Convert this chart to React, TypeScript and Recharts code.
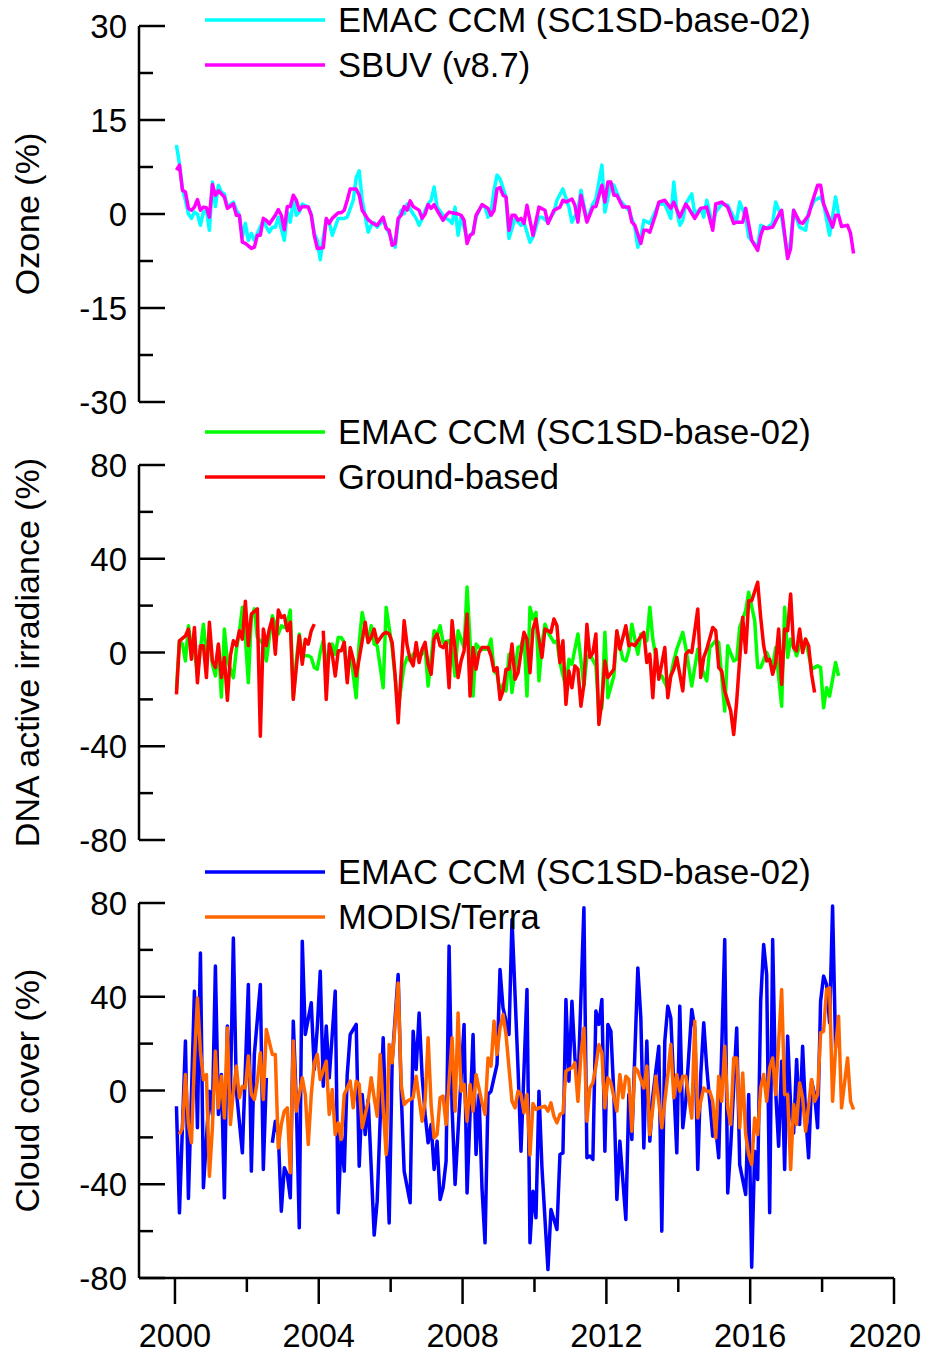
import React from 'react';
import { LineChart, Line, XAxis, YAxis, Legend } from 'recharts';

type Pt = [number, number | null];

// month index counted from January 2000
const yearMajor = [2000, 2004, 2008, 2012, 2016, 2020];
const yearMinor = [2002, 2006, 2010, 2014, 2018];
const ozoneMajor = [30, 15, 0, -15, -30];
const ozoneMinor = [22.5, 7.5, -7.5, -22.5];
const pctMajor = [80, 40, 0, -40, -80];
const pctMinor = [60, 20, -20, -60];

const ozoneEmac: Pt[] = [[0,11.0],[1,8.0],[2,4.0],[3,2.2],[4,0],[5,-0.7],[6,0.3],[7,0],[8,-1.8],[9,0.3],[10,0.6],[11,-2.6],[12,5.1],[13,1.2],[14,4.6],[15,3.5],[16,3.2],[17,1.1],[19,1.9],[20,0.6],[21,-0.2],[22,-3.7],[23,-1.5],[24,-4.2],[25,-3.1],[26,-4.2],[27,-3.1],[29,-1.0],[30,-2.1],[31,-2.9],[32,-2.1],[33,-2.1],[34,-0.5],[36,-4.2],[37,0.3],[38,-1.3],[39,2.2],[40,-0.2],[41,0.3],[42,1.6],[44,1.1],[45,0],[46,-3.1],[47,-4.2],[48,-7.3],[49,-3.7],[50,-1.0],[51,-1.3],[52,-3.4],[54,-0.7],[55,-0.7],[56,-0.7],[57,-0.5],[59,2.2],[60,5.8],[61,6.9],[62,2.2],[64,-2.9],[65,-1.8],[66,-1.4],[67,-2.1],[69,-1.0],[70,-2.1],[71,-3.1],[72,-4.2],[73,-5.3],[74,-1.3],[75,0.6],[76,0],[77,1.6],[79,0],[80,-0.7],[81,-1.8],[82,-0.7],[83,0.6],[84,1.6],[85,2.2],[86,4.3],[87,1.1],[89,-0.2],[90,-0.7],[91,-1.0],[92,-1.5],[93,1.1],[94,-3.4],[95,-0.5],[96,-2.1],[97,-3.9],[99,-2.9],[100,-0.5],[101,0.6],[102,1.4],[103,1.1],[104,-0.5],[105,0.3],[106,3.8],[107,6.2],[108,5.6],[110,2.7],[111,-3.9],[113,-0.7],[115,-1.8],[116,-1.3],[118,-4.5],[119,-3.7],[121,-0.5],[122,-0.5],[124,-1.3],[126,0.3],[127,2.2],[129,4.0],[131,1.1],[132,-1.3],[134,0.6],[135,3.8],[137,-1.0],[139,1.6],[140,2.4],[142,7.8],[143,0.3],[145,4.8],[146,4.6],[148,2.2],[150,1.1],[151,0.6],[153,-2.1],[154,-5.3],[155,-3.7],[156,-1.0],[158,-1.5],[160,0.6],[161,1.6],[163,1.6],[165,-0.7],[166,5.1],[167,0.6],[168,-1.8],[169,-1.0],[170,1.6],[172,3.2],[173,0],[175,0.9],[176,-0.5],[177,2.2],[179,-1.8],[180,0.3],[182,1.6],[184,1.4],[186,-0.5],[187,-1.0],[188,1.9],[190,-0.5],[191,-3.7],[194,-5.3],[195,-1.8],[197,-2.3],[199,-1.5],[200,1.9],[202,-0.5],[204,-6.9],[205,-4.2],[206,0.6],[208,-2.1],[210,-2.6],[211,0.3],[213,2.2],[215,2.7],[216,1.6],[218,-3.4],[220,2.7],[221,0]];

const ozoneSbuv: Pt[] = [[0,7.0],[1,7.8],[2,3.8],[3,3.5],[4,0.9],[5,0.6],[6,1.1],[7,2.3],[8,0.6],[9,1.1],[10,1.0],[11,-0.5],[12,4.7],[13,3.0],[14,3.7],[16,2.7],[17,0.9],[19,1.6],[20,-0.2],[21,-0.2],[22,-4.5],[23,-4.7],[25,-5.5],[26,-5.3],[27,-3.4],[28,-3.4],[29,-0.7],[30,-1.0],[31,-1.6],[33,-0.2],[34,0.7],[35,-0.2],[36,-2.5],[37,1.2],[38,1.2],[39,3.0],[40,2.2],[41,0.6],[42,1.2],[44,1.1],[45,-0.2],[46,-3.4],[47,-5.5],[49,-5.4],[50,-0.7],[51,-1.5],[52,-0.7],[54,0.2],[55,0.2],[56,0.6],[57,2.2],[58,4.0],[60,4.0],[61,3.0],[62,0.6],[64,-0.9],[65,-1.3],[66,-1.6],[67,-1.8],[69,-0.5],[70,-2.3],[71,-2.6],[72,-5.0],[73,-4.7],[74,-0.7],[75,-0.2],[76,1.2],[77,0.6],[78,2.1],[79,1.2],[80,0.9],[81,0.6],[82,-0.7],[83,0],[84,1.5],[85,0.9],[86,1.5],[87,0.6],[88,-0.2],[89,-1.0],[90,-0.2],[91,0.3],[92,0.2],[94,0],[95,-0.2],[96,-1.0],[97,-4.7],[98,-3.4],[99,-3.1],[100,-0.2],[101,0.6],[102,1.5],[104,0.9],[105,-0.2],[106,0.6],[107,4.0],[108,4.2],[109,3.0],[110,2.7],[111,-2.6],[112,-0.2],[113,-0.2],[114,-1.0],[115,-0.7],[116,-1.5],[117,1.4],[119,-3.4],[121,1.1],[123,0.6],[124,-1.5],[126,0.6],[128,1.1],[129,2.2],[130,1.9],[132,2.4],[133,1.4],[134,-1.3],[135,3.0],[137,-1.3],[139,1.1],[140,1.2],[142,4.6],[143,1.9],[144,5.1],[145,5.1],[146,3.0],[147,3.0],[149,1.1],[151,1.1],[152,-1.3],[153,-1.8],[155,-4.7],[156,-2.6],[157,-2.6],[158,-2.9],[160,0],[161,1.9],[163,2.2],[165,0.9],[166,1.9],[168,-0.5],[170,1.6],[171,0.9],[173,-0.7],[175,0.9],[177,1.1],[179,-2.6],[180,1.6],[182,1.9],[184,1.1],[186,-1.5],[187,-1.3],[189,-1.3],[190,0.9],[192,-4.2],[194,-5.8],[195,-3.4],[196,-2.1],[197,-2.3],[199,-2.1],[201,-0.2],[202,0.6],[204,-7.1],[205,-5.5],[206,0.6],[208,-1.3],[209,-1.5],[211,-0.2],[212,1.6],[214,4.6],[215,4.6],[216,1.6],[219,-2.1],[220,-0.2],[221,-0.2],[222,-2.0],[224,-1.8],[225,-3.1],[226,-6.3]];

const dnaEmac: Pt[] = [[0,-15.7],[1,5.0],[2,3.6],[3,-3.6],[4,11.4],[5,2.1],[6,0.7],[7,-9.3],[9,12.1],[10,-0.7],[11,7.9],[12,-5],[13,-10],[14,2.9],[15,-19],[16,10],[17,-3.6],[19,-10.7],[20,1.4],[21,8.6],[22,19.3],[23,6.4],[24,-12.9],[25,15],[26,18.6],[27,6.4],[29,3.6],[30,-3.6],[31,6.4],[32,15.7],[34,7.9],[35,11.4],[36,10.7],[37,12.9],[38,18.1],[39,-19.3],[40,-3.6],[41,7.9],[42,-1.4],[44,-1.4],[45,-2.1],[46,-6.4],[47,-7.1],[48,0],[49,5.0],[50,-4.3],[52,3.6],[53,-0.7],[54,6.4],[55,6.4],[56,4.3],[57,-10.7],[58,0.7],[60,-19.3],[61,4.3],[62,17.1],[64,4.3],[65,11.4],[66,3.6],[67,2.9],[69,-15],[70,19.3],[71,10.7],[72,2.1],[74,-23.6],[76,-5.7],[77,-2.1],[78,-3.6],[79,-0.7],[80,-1.4],[82,-0.7],[83,2.1],[84,-14.3],[86,9.3],[87,7.1],[88,11.4],[89,4.3],[91,5.0],[92,0.7],[93,-10],[94,9.3],[96,2.1],[97,27.9],[99,-18.6],[100,3.6],[101,2.1],[102,1.4],[104,1.4],[105,5.7],[106,-7.9],[107,-9.3],[108,-17.1],[109,-13.6],[110,-16.4],[111,-0.7],[112,-17.1],[114,2.1],[115,2.9],[116,7.1],[117,-18.6],[118,19.3],[119,14.3],[120,17.1],[121,-12.1],[122,3.6],[123,12.1],[124,8.6],[126,4.3],[127,5],[128,-4.3],[130,-15],[131,-2.9],[132,-5],[134,7.9],[136,-14.3],[137,-2.1],[138,-0.7],[140,-5.7],[141,-25.7],[142,-23.6],[143,8.6],[144,-19.3],[146,-10],[147,8.6],[149,-2.9],[150,-3.6],[151,0.7],[152,12.1],[154,-0.7],[155,7.9],[157,5],[158,19.3],[159,5.7],[161,-9.3],[162,-10],[164,-15.7],[166,-3.6],[167,1.4],[169,8.6],[170,2.1],[172,-14.3],[174,1.4],[175,-5.7],[177,-12.1],[178,2.1],[180,5],[181,4.3],[183,-25],[184,2.9],[186,-3.6],[187,-2.9],[188,10.7],[190,17.9],[191,25.7],[193,13.6],[194,-6.4],[195,-6.4],[197,0],[199,-6.4],[200,2.1],[202,-22.9],[203,19.3],[204,-2.1],[205,5.7],[207,-1.4],[208,2.9],[209,3.6],[210,5.7],[212,-7.1],[214,-5.7],[215,-6.4],[216,-23.6],[217,-15],[218,-18.6],[220,-4.3],[221,-10]];

const dnaGround: Pt[] = [[0,-17.9],[1,5.0],[3,7.1],[4,10],[5,-2.9],[6,10.7],[7,-12.9],[8,2.9],[9,2.9],[10,-10.7],[11,12.9],[12,-3.6],[13,-6.4],[14,3.6],[15,-10.7],[16,-2.1],[17,-20.4],[18,-1.4],[19,5.0],[20,2.9],[21,9.3],[22,5.7],[23,21.9],[24,2.9],[25,16.4],[27,18.6],[28,-35.7],[29,10],[30,2.9],[31,10],[32,14.3],[33,-0.7],[34,18.1],[35,15],[36,15.7],[37,9.3],[38,12.9],[39,-20],[41,7.1],[42,-5],[43,5.7],[44,3.6],[45,9.3],[46,12.1],[47.5,null],[49,9.3],[50,-20],[51,3.6],[52,-0.7],[53,-10],[54,0.7],[55,0.7],[56,4.3],[57,-12.9],[58,2.1],[59,-2.9],[60,-10],[62,5.0],[63,12.9],[64,4.3],[65,6.4],[66,10],[67,4.3],[69,7.9],[70,8.6],[71,7.9],[72,4.3],[73,-10],[74,-30],[76,13.6],[77,2.9],[78,-2.9],[79,-5.7],[80,4.3],[81,-4.3],[82,1.4],[83,4.3],[84,-5],[85,-9.3],[86,5.7],[87,7.9],[88,2.9],[89,2.1],[90,4.3],[91,-15],[92,13.6],[94,-10.7],[95,-3.6],[96,0.7],[97,16.4],[98,-18.6],[99,2.1],[100,-7.1],[101,0],[102,2.1],[104,2.1],[105,-1.4],[106,-7.9],[107,-6.4],[108,-20],[109,-16.4],[110,-7.1],[111,-7.1],[112,3.6],[113,-11.4],[114,-8.6],[116,8.6],[117,5.7],[118,-8.6],[119,10],[120,14.3],[121,5.7],[122,-2.1],[123,10],[125,8.6],[126,14.3],[127,11.4],[128,-4.3],[129,5.0],[130,-22.1],[131,-7.9],[132,-15],[133,-5.7],[134,-7.1],[135,-22.9],[136,-13.6],[137,12.1],[138,-2.1],[139,0],[140,7.9],[141,-30.7],[142,-20.7],[143,-3.6],[144,-10.7],[146,-7.1],[147,9.3],[148,1.4],[150,11.4],[151,2.9],[152,3.6],[153,2.9],[154,5.0],[156,8.6],[157,-4.3],[158,-0.7],[159,-19.3],[160,1.4],[161,-11.4],[163,2.1],[164,-19.3],[165,-10],[166,-7.1],[167,-2.1],[169,-16.4],[170,-0.7],[171,0.7],[172,0],[174,18.6],[175,-10.7],[176,-2.1],[177,1.4],[179,10.7],[180,9.3],[181,-6.4],[182,-7.9],[183,-16.4],[185,-25],[186,-35],[187,-20.7],[189,15],[190,0],[191,22.1],[192,22.1],[194,30],[195,15],[196,2.9],[197,-3.6],[198,-2.9],[199,-9.3],[200,-4.3],[201,10],[202,-13.6],[203,10],[204,9.3],[205,25],[206,2.1],[207,0.7],[208,10],[209,0],[210,5.7],[211,2.9],[212,-9.3],[213,-17.1]];

const cloudEmac: Pt[] = [[0,-6.7],[1,-52.2],[3,21.1],[4,-46.1],[6,42.4],[7,-15.9],[8,58.7],[9,-41.5],[11,-0.3],[12,-10.2],[13,53.1],[14,-10.2],[15,6.8],[16,-45.8],[17,27.5],[18,-1.7],[19,65.1],[20,-0.3],[22,-26.6],[24,45.2],[25,-34.4],[26,15.4],[28,45.2],[29,-33.7],[30,5.4],[31,null],[32,-22.3],[33,-13.1],[34,-18.8],[35,-51.5],[36,-33],[37,-35.8],[38,-45.8],[39,29.6],[40,-4.6],[41,-58.6],[42,63.7],[43,23.9],[45,37.4],[46,9],[47,26.7],[48,50.9],[49,1.8],[50,27.5],[51,5.4],[53,42.4],[54,-52.2],[55,-18.8],[56,-34.4],[57,6.8],[58,23.9],[60,28.2],[61,-32.3],[62,-1.7],[63,-18.8],[64,-3.8],[66,-61.7],[67,-47.2],[69,22.5],[71,-56.5],[72,12.5],[74,49.5],[75,-0.3],[76,-34.4],[78,-47.9],[79,25.3],[80,9],[81,33.1],[82,6.1],[83,-10.2],[84,-22.3],[85,-14.5],[86,-33.7],[87,-21.6],[88,-46.5],[89,-41.5],[90,-30.2],[91,61.6],[92,-7.4],[93,-40.1],[95,5.4],[96,28.2],[97,-43.7],[99,23.9],[100,-27.3],[101,-1.7],[102,-42.2],[103,-65],[104,-1.7],[105,-0.3],[107,11.1],[108,51.6],[109,35.3],[111,23.9],[112,73],[114,9.7],[115,-25.9],[117,43.1],[118,-65],[119,-43],[120,-54.3],[121,-0.3],[122,-33],[124,-76.4],[125,-50.8],[127,-59.3],[128,-27.3],[129,-26.6],[130,38.8],[131,4.0],[132,38.1],[133,13.9],[134,1.1],[136,78],[137,-28.7],[138,-28],[139,-29.4],[140,33.9],[141,28.2],[142,38.8],[143,-25.9],[144,28.2],[145,25.3],[146,-1.7],[147,-46.5],[148,-21.6],[150,-55],[151,-1.7],[152,-20.9],[154,52.3],[155,31],[156,-24.5],[157,21.1],[158,-21.6],[159,-2.4],[161,18.9],[162,-60],[163,21.1],[164,36],[165,31],[167,-26.6],[168,36],[169,-15.9],[170,-4.6],[172,34.6],[173,26.7],[174,-33.7],[175,6.8],[176,28.9],[177,9.7],[178,-4.6],[179,-19.5],[180,-15.9],[181,-28.7],[183,64.4],[184,-43.7],[185,-23.8],[187,26.7],[188,-31.6],[190,-44.4],[191,-1.7],[192,-75.4],[193,-25.9],[194,-38],[195,38.1],[196,62.3],[197,49.5],[198,-52.2],[199,64.4],[200,-0.3],[201,-23.8],[202,12.5],[203,-33.7],[204,23.2],[205,-6.7],[206,-18.1],[207,13.2],[208,-14.5],[209,18.9],[210,-10.2],[211,-28.7],[212,4.0],[213,-1.7],[214,-15.9],[215,38.1],[216,48.8],[217,45.2],[218,28.9],[219,78.7],[220,18.2]];

const cloudModis: Pt[] = [[1,-18.8],[2,-15.9],[3,6.8],[4,-14.5],[5,-22.3],[6,12.5],[7,39.5],[8,16.8],[9,4.7],[10,6.8],[11,-36.6],[12,-15.9],[13,16.8],[14,-7.4],[15,6.1],[16,-11.7],[17,26.7],[18,-14.5],[19,-0.3],[20,10.4],[21,-3.1],[22,1.8],[23,1.1],[24,14.7],[25,-1.7],[26,-3.8],[27,4.0],[28,16.1],[29,-3.8],[30,26],[32,15.4],[33,15.4],[34,-24.5],[35,-14.5],[36,-8.8],[37,-7.4],[38,-35.1],[39,21.1],[40,-8.8],[42,5.4],[43,-1.7],[44,-23],[45,-1.7],[46,11.8],[47,15.4],[48,4.7],[50,12.5],[51,-10.2],[52,0.4],[53,-18.8],[54,-13.8],[55,-20.9],[56,-1.7],[58,4.0],[59,-7.4],[60,4.0],[61,2.6],[62,-15.9],[64,-4.6],[65,5.4],[66,-3.1],[67,-11],[68,15.4],[69,-7.4],[70,-27.3],[71,19.6],[72,11.8],[74,45.9],[75,2.6],[76,-6],[77,-4.6],[79,-3.1],[80,6.1],[82,-13.1],[83,-4.6],[84,22.5],[85,-6],[86,-20.2],[87,-18.8],[88,-3.1],[89,-2.4],[90,-14.5],[92,22.5],[93,-8.8],[94,33.1],[95,-0.3],[96,2.6],[97,-13.1],[98,2.6],[99,-8.8],[100,6.8],[102,-5.3],[103,-10.2],[104,13.9],[105,10.4],[106,29.6],[107,15.4],[108,26.7],[109,32.4],[110,23.9],[112,-4.6],[113,-7.4],[114,-0.3],[115,-1.7],[116,-9.5],[117,-1.7],[118,-27.5],[119,-5.6],[120,-8.1],[121,-7.4],[123,-6.7],[124,-8.8],[125,-5.3],[126,-11],[127,-13.8],[128,-10.2],[129,-9.5],[130,8.3],[132,9.7],[133,11.8],[134,-4.6],[135,15.4],[136,26.7],[137,-13.1],[138,1.1],[139,3.3],[140,10.4],[141,19.6],[142,16.1],[143,-7.4],[144,5.4],[145,3.3],[147,-8.8],[148,6.8],[149,-3.1],[150,6.1],[151,4.7],[152,-17.4],[153,9.7],[154,8.3],[156,1.1],[157,10.4],[158,-18.8],[159,-7.4],[160,6.1],[162,-15.9],[163,-4.6],[164,6.8],[165,19.6],[166,-3.1],[167,6.8],[168,-0.3],[169,6.1],[170,6.1],[172,-11.7],[173,29.6],[174,-11.7],[175,-4.6],[176,1.1],[177,-0.3],[178,-0.3],[179,-4.6],[180,-20.2],[181,6.1],[182,-4.6],[183,18.9],[184,-7.4],[185,-14.5],[186,13.9],[187,13.9],[188,-15.9],[189,7.5],[190,-18.8],[191,-27.3],[192,-31.6],[193,-11.7],[194,-18.8],[195,1.1],[196,6.8],[197,-4.6],[198,9.7],[199,13.9],[200,-1.7],[202,43.1],[203,-1.7],[204,-1.7],[205,-33.7],[206,-6],[207,-14.5],[208,3.3],[209,-3.1],[210,-17.4],[212,4.7],[213,-4.6],[214,-1.7],[215,24.6],[216,25.3],[217,43.1],[218,43.8],[219,-4.6],[220,18.2],[221,31.7],[222,-7.4],[224,13.9],[225,-4.6],[226,-8.1]];

const FONT = '"Liberation Sans", Arial, Helvetica, sans-serif';
const CHART_W = 915;
const PLOT_RIGHT = 886;
const X_FONT = 32.5;
const toSeries = (pts: Pt[]) => pts.map(([m, v]) => ({ x: 2000 + (m + 0.5) / 12, y: v }));

const YTick = (props: any) => {
  const { x, y, payload, majors } = props;
  const isMajor = majors.includes(payload.value);
  return (
    <g>
      <line x1={x} x2={x + (isMajor ? 26 : 14)} y1={y} y2={y} stroke="#000" strokeWidth={2.5} />
      {isMajor && (
        <text x={x - 12} y={y + 12} textAnchor="end" fontSize={33} fontFamily={FONT} fill="#000">
          {payload.value}
        </text>
      )}
    </g>
  );
};

const XTick = (props: any) => {
  const { x, y, payload } = props;
  const isMajor = yearMajor.includes(payload.value);
  // keep the last label inside the visible page area
  const halfW = (String(payload.value).length * 0.556 * X_FONT) / 2;
  const tx = Math.min(x, CHART_W - 2 - halfW);
  return (
    <g>
      <line x1={x} x2={x} y1={y} y2={y + (isMajor ? 26 : 14)} stroke="#000" strokeWidth={2.5} />
      {isMajor && (
        <text x={tx} y={y + 69} textAnchor="middle" fontSize={X_FONT} fontFamily={FONT} fill="#000">
          {payload.value}
        </text>
      )}
    </g>
  );
};

type SeriesDef = { name: string; color: string; pts: Pt[] };

const makeTitle = (title: string) => (props: any) => {
  const vb = props.viewBox || {};
  const cx = 30.5;
  const cy = (vb.y ?? 0) + (vb.height ?? 0) / 2;
  return (
    <text x={cx} y={cy} transform={`rotate(-90 ${cx} ${cy})`} textAnchor="middle" fontSize={34} fontFamily={FONT} fill="#000">
      {title}
    </text>
  );
};

const makeLegend = (series: SeriesDef[]) => () => (
  <svg width={CHART_W} height={80} style={{ display: 'block', overflow: 'visible' }}>
    {series.map((s, i) => {
      const ly = 12 + i * 45;
      return (
        <g key={s.name}>
          <line x1={197} x2={317} y1={ly} y2={ly} stroke={s.color} strokeWidth={3.5} />
          <text x={330} y={ly + 12} fontSize={34.6} fontFamily={FONT} fill="#000">{s.name}</text>
        </g>
      );
    })}
  </svg>
);

type PanelProps = {
  height: number;
  top: number;
  bottom: number;
  xHeight?: number;
  domain: [number, number];
  majors: number[];
  minors: number[];
  title: string;
  series: SeriesDef[];
  showX: boolean;
};

const Panel = ({ height, top, bottom, xHeight = 0, domain, majors, minors, title, series, showX }: PanelProps) => {
  const yTicks = [...majors, ...minors].sort((a, b) => a - b);
  const xTicks = [...yearMajor, ...yearMinor].sort((a, b) => a - b);
  return (
    <LineChart
      width={CHART_W}
      height={height}
      margin={{ top, right: CHART_W - PLOT_RIGHT, bottom, left: 0 }}
    >
      <XAxis
        dataKey="x"
        type="number"
        domain={[1999, 2020]}
        allowDataOverflow
        hide={!showX}
        ticks={xTicks}
        interval={0}
        height={xHeight}
        tickSize={0}
        tickMargin={0}
        tickLine={false}
        axisLine={{ stroke: '#000', strokeWidth: 2.5 }}
        tick={<XTick />}
      />
      <YAxis
        type="number"
        domain={domain}
        allowDataOverflow
        ticks={yTicks}
        interval={0}
        width={131}
        tickSize={0}
        tickMargin={0}
        tickLine={false}
        axisLine={{ stroke: '#000', strokeWidth: 2.5 }}
        tick={<YTick majors={majors} />}
        label={makeTitle(title)}
      />
      {series.map((s) => (
        <Line
          key={s.name}
          data={toSeries(s.pts)}
          dataKey="y"
          type="linear"
          stroke={s.color}
          strokeWidth={3.5}
          strokeLinejoin="round"
          dot={false}
          activeDot={false}
          isAnimationActive={false}
          connectNulls={false}
        />
      ))}
      <Legend
        layout="horizontal"
        verticalAlign="middle"
        align="center"
        wrapperStyle={{ position: 'absolute', top: 0, left: 0, right: 'auto', bottom: 'auto', width: CHART_W, height: 80 }}
        content={makeLegend(series)}
      />
    </LineChart>
  );
};

export default function App() {
  return (
    <div style={{ width: CHART_W, background: '#fff', marginBottom: -8 }}>
      <Panel
        height={412}
        top={18}
        bottom={18}
        domain={[-30, 30]}
        majors={ozoneMajor}
        minors={ozoneMinor}
        title="Ozone (%)"
        showX={false}
        series={[
          { name: 'EMAC CCM (SC1SD-base-02)', color: '#00FFFF', pts: ozoneEmac },
          { name: 'SBUV (v8.7)', color: '#FF00FF', pts: ozoneSbuv },
        ]}
      />
      <Panel
        height={440}
        top={45}
        bottom={20}
        domain={[-80, 80]}
        majors={pctMajor}
        minors={pctMinor}
        title="DNA active irradiance (%)"
        showX={false}
        series={[
          { name: 'EMAC CCM (SC1SD-base-02)', color: '#00FF00', pts: dnaEmac },
          { name: 'Ground-based', color: '#FF0000', pts: dnaGround },
        ]}
      />
      <Panel
        height={497}
        top={43}
        bottom={0}
        xHeight={79}
        domain={[-80, 80]}
        majors={pctMajor}
        minors={pctMinor}
        title="Cloud cover (%)"
        showX={true}
        series={[
          { name: 'EMAC CCM (SC1SD-base-02)', color: '#0000FF', pts: cloudEmac },
          { name: 'MODIS/Terra', color: '#FF6600', pts: cloudModis },
        ]}
      />
    </div>
  );
}
